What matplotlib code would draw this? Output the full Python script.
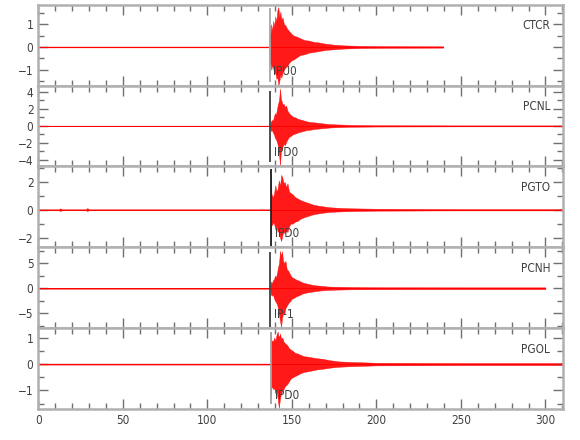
import matplotlib
matplotlib.use("Agg")
import matplotlib.pyplot as plt
from matplotlib.ticker import MultipleLocator
import matplotlib.transforms as mtransforms

plt.rcParams['font.family'] = ['DejaVu Sans']
plt.rcParams['font.stretch'] = 'condensed'

# station info
stations = ['CTCR', 'PCNL', 'PGTO', 'PCNH', 'PGOL']
pick_labels = ['IPU0', 'IPD0', 'IPD0', 'IP-1', 'IPD0']
pick_times = [136.8, 137.3, 137.7, 137.3, 137.7]
pick_colors = ['#a8a8a8', '#404040', '#202020', '#404040', '#a0a0a0']
pick_top = [1.7, 4.1, 2.95, 7.2, 1.23]
pick_bottom = [-1.55, -4.3, -2.6, -7.8, -1.53]
trace_end = [239.5, 310, 310, 300, 310]
ylims = [(-1.7, 1.85), (-4.8, 4.75), (-2.7, 3.1), (-8.0, 8.2), (-1.7, 1.36)]
major_y = [1, 2, 2, 5, 1]
minor_y = [0.5, 1, 1, 2.5, 0.5]

# amplitude envelopes (time s, upper, lower)
t_ctcr = [0, 136.6, 136.9, 137.3, 137.8, 138.4, 139.0, 139.6, 140.2, 140.8, 141.4, 142.0,
          142.6, 143.2, 143.8, 144.5, 145.3, 146.2, 147.2, 148.3, 149.5, 151, 153, 155,
          157.5, 160, 163, 166, 170, 175, 181, 190, 205, 239.5]
hi_ctcr = [0.02, 0.02, 0.95, 0.45, 1.0, 0.7, 1.15, 0.9, 1.35, 1.1, 1.6, 1.75,
           1.3, 1.55, 1.2, 1.3, 1.0, 0.95, 0.8, 0.7, 0.6, 0.5, 0.45, 0.38,
           0.3, 0.28, 0.22, 0.2, 0.14, 0.1, 0.07, 0.05, 0.04, 0.03]
lo_ctcr = [-0.02, -0.02, -0.9, -0.6, -1.0, -0.8, -0.95, -1.2, -1.1, -1.4, -1.3, -1.7,
           -1.5, -1.2, -1.35, -1.1, -1.0, -0.9, -0.85, -0.7, -0.6, -0.55, -0.45, -0.35,
           -0.32, -0.25, -0.22, -0.18, -0.13, -0.1, -0.07, -0.05, -0.04, -0.03]

t_pcnl = [0, 137.2, 137.6, 138.2, 138.8, 139.4, 140.0, 140.6, 141.2, 141.8, 142.4, 143.0,
          143.5, 144.0, 144.6, 145.2, 145.9, 146.6, 147.4, 148.3, 149.3, 150.5, 152, 154,
          156, 158.5, 161, 164, 168, 172, 177, 185, 200, 250, 310]
hi_pcnl = [0.03, 0.03, 0.5, 0.7, 0.6, 1.1, 1.5, 1.3, 2.0, 2.6, 3.0, 4.4,
           3.2, 2.9, 2.5, 2.6, 2.2, 2.4, 1.8, 1.5, 1.3, 1.1, 1.0, 0.8,
           0.7, 0.55, 0.45, 0.4, 0.3, 0.22, 0.17, 0.12, 0.08, 0.06, 0.06]
lo_pcnl = [-0.03, -0.03, -0.6, -0.5, -0.8, -1.0, -1.4, -1.6, -1.9, -2.4, -3.3, -4.7,
           -3.0, -2.7, -2.4, -2.1, -2.3, -1.9, -1.6, -1.3, -1.2, -1.0, -0.9, -0.75,
           -0.65, -0.5, -0.45, -0.35, -0.28, -0.2, -0.15, -0.11, -0.08, -0.06, -0.06]

t_pgto = [0, 12, 13, 14, 28, 29, 30, 137.5, 137.7, 137.9, 138.3, 138.9, 139.5, 140.2,
          140.9, 141.6, 142.3, 143.0, 143.7, 144.4, 145.1, 145.8, 146.6, 147.4, 148.3,
          149.3, 150.5, 152, 153.5, 155, 157, 159.5, 162, 165, 168, 172, 177, 185, 200,
          250, 310]
hi_pgto = [0.03, 0.03, 0.1, 0.03, 0.03, 0.12, 0.03, 0.03, 2.95, 1.2, 1.0, 0.9, 1.2, 1.75,
           1.3, 1.5, 2.1, 1.7, 2.5, 2.3, 1.9, 2.0, 1.6, 1.9, 1.3,
           1.2, 1.1, 0.9, 0.8, 0.7, 0.6, 0.5, 0.38, 0.3, 0.25, 0.18, 0.14, 0.1, 0.07,
           0.05, 0.05]
lo_pgto = [-0.03, -0.03, -0.1, -0.03, -0.03, -0.1, -0.03, -0.03, -2.6, -1.0, -1.1, -0.9, -1.0, -1.4,
           -1.2, -1.6, -1.5, -2.0, -2.25, -1.8, -1.6, -1.7, -1.5, -1.6, -1.2,
           -1.0, -1.0, -0.85, -0.8, -0.65, -0.55, -0.45, -0.35, -0.28, -0.22, -0.17, -0.13, -0.1, -0.07,
           -0.05, -0.05]

t_pcnh = [0, 137.2, 137.6, 138.2, 138.8, 139.4, 140.0, 140.6, 141.2, 141.8, 142.4, 143.0,
          143.6, 144.2, 144.8, 145.5, 146.2, 147.0, 147.9, 148.9, 150, 151.3, 152.7, 154.3,
          156, 158, 160.5, 163.5, 167, 171, 176, 185, 200, 250, 300]
hi_pcnh = [0.1, 0.1, 1.3, 1.0, 1.6, 1.8, 2.5, 2.2, 3.0, 4.2, 5.0, 7.5,
           6.5, 7.4, 5.5, 5.0, 5.5, 3.8, 3.5, 2.8, 2.2, 2.0, 1.7, 1.5,
           1.2, 1.0, 0.8, 0.6, 0.5, 0.35, 0.3, 0.25, 0.2, 0.18, 0.18]
lo_pcnh = [-0.1, -0.1, -1.3, -1.5, -1.2, -2.0, -2.5, -2.8, -3.2, -4.0, -5.5, -6.5,
           -7.8, -6.0, -5.0, -5.2, -4.0, -3.5, -3.0, -2.6, -2.1, -1.9, -1.6, -1.4,
           -1.1, -0.9, -0.75, -0.6, -0.45, -0.35, -0.28, -0.22, -0.2, -0.18, -0.18]

t_pgol = [0, 137.5, 137.7, 137.9, 138.3, 138.9, 139.5, 140.2, 140.9, 141.6, 142.3, 143.0,
          143.7, 144.4, 145.1, 145.8, 146.6, 147.4, 148.3, 149.3, 150.5, 152, 153.5, 155,
          157, 159.5, 162, 165, 168, 172, 178, 185, 200, 250, 310]
hi_pgol = [0.02, 0.02, 1.23, 0.8, 0.9, 0.85, 1.0, 0.9, 1.1, 1.23, 1.0, 1.15,
           0.95, 1.0, 0.85, 0.8, 0.75, 0.7, 0.6, 0.55, 0.5, 0.42, 0.4, 0.35,
           0.3, 0.28, 0.25, 0.22, 0.2, 0.15, 0.1, 0.08, 0.05, 0.04, 0.04]
lo_pgol = [-0.02, -0.02, -1.15, -0.9, -0.85, -0.95, -0.9, -1.1, -1.0, -1.3, -1.66, -1.3,
           -1.1, -1.0, -0.95, -0.85, -0.8, -0.75, -0.65, -0.55, -0.5, -0.45, -0.4, -0.35,
           -0.3, -0.27, -0.24, -0.2, -0.18, -0.14, -0.1, -0.08, -0.05, -0.04, -0.04]

envelopes = [(t_ctcr, hi_ctcr, lo_ctcr), (t_pcnl, hi_pcnl, lo_pcnl),
             (t_pgto, hi_pgto, lo_pgto), (t_pcnh, hi_pcnh, lo_pcnh),
             (t_pgol, hi_pgol, lo_pgol)]

fig = plt.figure(figsize=(5.8, 4.4), dpi=100)
left, right, top, bottom = 0.066, 0.971, 0.989, 0.0705
h = (top - bottom) / 5

for i, name in enumerate(stations):
    ax = fig.add_axes([left, top - (i + 1) * h, right - left, h])
    t, hi, lo = envelopes[i]
    ax.plot([0, trace_end[i]], [0, 0], color='red', lw=0.7)
    ax.fill_between(t, lo, hi, color='red', lw=0.3, alpha=0.9)
    ax.vlines(pick_times[i], pick_bottom[i], pick_top[i], color=pick_colors[i], lw=1.3)

    ax.set_xlim(0, 310.5)
    ax.set_ylim(*ylims[i])
    ax.xaxis.set_major_locator(MultipleLocator(50))
    ax.xaxis.set_minor_locator(MultipleLocator(10))
    ax.yaxis.set_major_locator(MultipleLocator(major_y[i]))
    ax.yaxis.set_minor_locator(MultipleLocator(minor_y[i]))
    ax.tick_params(which='both', direction='in', top=True, right=True,
                   color='#707070', labelcolor='#404040', labelsize=8.5)
    ax.tick_params(which='major', length=7, width=1)
    ax.tick_params(which='minor', length=4, width=1)
    if i < 4:
        ax.tick_params(labelbottom=False)
    for sp in ax.spines.values():
        sp.set_color('#b0b0b0')
        sp.set_linewidth(1.8)

    ax.text(0.975, 0.74, name, transform=ax.transAxes, ha='right', va='center',
            fontsize=8.5, color='#404040')
    trans = mtransforms.blended_transform_factory(ax.transData, ax.transAxes)
    ax.text(pick_times[i] + 2.2, 0.17, pick_labels[i], transform=trans, ha='left',
            va='center', fontsize=8.5, color='#404040', zorder=5)

fig.savefig('out.png', dpi=100)
